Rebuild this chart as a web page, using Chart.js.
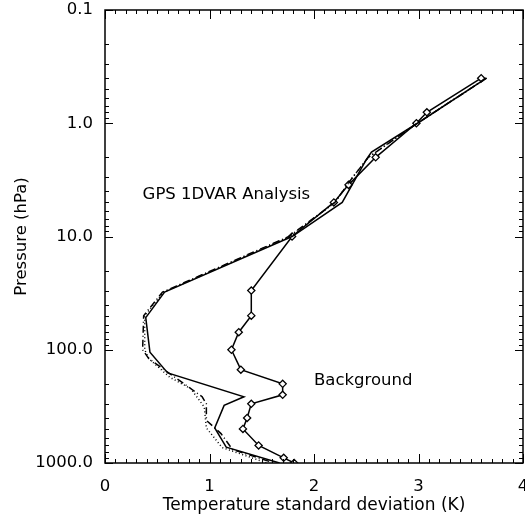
<!DOCTYPE html>
<html lang="en">
<head>
<meta charset="UTF-8">
<title>Temperature standard deviation</title>
<script src="https://cdn.jsdelivr.net/npm/chart.js"></script>
<style>
  html, body { margin: 0; padding: 0; background: #fff; overflow: hidden; }
  .chart-container { position: relative; width: 525px; height: 517px; }
</style>
</head>
<body>
<div class="chart-container"><canvas id="chart" width="525" height="517"></canvas></div>
<script>
// background error profile (diamonds)
const bgPressure = [0.4, 0.8, 1, 2, 3.5, 5, 10, 30, 50, 70, 100, 150, 200, 250, 300, 400, 500, 700, 900, 1000];
const bgStd      = [3.6, 3.08, 2.98, 2.59, 2.33, 2.19, 1.79, 1.40, 1.40, 1.28, 1.21, 1.30, 1.70, 1.70, 1.40, 1.36, 1.32, 1.47, 1.71, 1.81];

// GPS 1DVAR analysis, solid
const anPressure = [0.4, 1, 1.8, 2.1, 5, 10, 31, 52, 105, 160, 260, 310, 490, 725, 1000];
const anStd      = [3.65, 2.99, 2.55, 2.5, 2.27, 1.79, 0.57, 0.39, 0.43, 0.60, 1.33, 1.14, 1.05, 1.16, 1.67];

// analysis, dash-dot
const an2Pressure = [0.4, 1, 2, 3, 5, 10, 31, 50, 100, 120, 170, 260, 300, 420, 550, 760, 1000];
const an2Std      = [3.65, 2.99, 2.52, 2.37, 2.2, 1.76, 0.55, 0.37, 0.36, 0.42, 0.65, 0.93, 0.97, 0.97, 1.11, 1.22, 1.62];

// analysis, dotted
const an3Pressure = [0.4, 1, 2, 3, 5, 10, 31, 50, 100, 120, 175, 220, 320, 490, 730, 1000];
const an3Std      = [3.65, 2.99, 2.52, 2.37, 2.2, 1.77, 0.56, 0.38, 0.38, 0.42, 0.62, 0.82, 0.95, 0.97, 1.12, 1.55];

const yTicks = [0.1, 1, 10, 100, 1000];
const xTicks = [0, 1, 2, 3, 4];

const FONT = 'DejaVu Sans';

function pts(p, v) {
    return p.map((pp, i) => ({ x: v[i], y: pp }));
}

function line(data, dash, extra) {
    return Object.assign({
        data: data,
        showLine: true,
        borderColor: '#000',
        borderWidth: 1.5,
        borderDash: dash,
        pointRadius: 0,
        fill: false
    }, extra || {});
}

// box + inward ticks + text labels
const frame = {
    id: 'frame',
    afterDatasetsDraw(chart) {
        const { ctx, chartArea: a, scales: { x, y } } = chart;
        ctx.save();
        ctx.strokeStyle = '#000';
        ctx.lineWidth = 1.5;
        ctx.strokeRect(a.left, a.top, a.right - a.left, a.bottom - a.top);

        ctx.lineWidth = 1;
        ctx.beginPath();
        for (let i = 0; i <= 40; i++) {
            const px = Math.round(x.getPixelForValue(i / 10)) + 0.5;
            const len = i % 10 === 0 ? 9 : 4;
            ctx.moveTo(px, a.bottom); ctx.lineTo(px, a.bottom - len);
            ctx.moveTo(px, a.top); ctx.lineTo(px, a.top + len);
        }
        for (const d of [0.1, 1, 10, 100]) {
            for (let k = 1; k <= 10; k++) {
                const py = Math.round(y.getPixelForValue(d * k)) + 0.5;
                const len = (k === 1 || k === 10) ? 8 : 4;
                ctx.moveTo(a.left, py); ctx.lineTo(a.left + len, py);
                ctx.moveTo(a.right, py); ctx.lineTo(a.right - len, py);
            }
        }
        ctx.stroke();

        ctx.fillStyle = '#000';
        ctx.font = '16.5px "' + FONT + '"';
        ctx.textBaseline = 'middle';
        ctx.fillText('GPS 1DVAR Analysis', x.getPixelForValue(0.36), y.getPixelForValue(4.3));
        ctx.fillText('Background', x.getPixelForValue(2.0), y.getPixelForValue(186));
        ctx.restore();
    }
};

new Chart(document.getElementById('chart'), {
    type: 'scatter',
    data: {
        datasets: [
            line(pts(anPressure, anStd), []),
            line(pts(an2Pressure, an2Std), [7, 3, 1, 3]),
            line(pts(an3Pressure, an3Std), [1, 2.5]),
            line(pts(bgPressure, bgStd), [], {
                pointRadius: 3.6,
                pointStyle: 'rectRot',
                pointBackgroundColor: '#fff',
                pointBorderColor: '#000',
                pointBorderWidth: 1.3
            })
        ]
    },
    options: {
        responsive: false,
        maintainAspectRatio: false,
        animation: false,
        layout: { autoPadding: false, padding: { top: 10, right: 2, left: 0, bottom: 0 } },
        plugins: { legend: { display: false }, tooltip: { enabled: false } },
        scales: {
            x: {
                type: 'linear',
                min: 0,
                max: 4,
                grid: { display: false },
                border: { display: false },
                afterBuildTicks: s => { s.ticks = xTicks.map(v => ({ value: v })); },
                afterFit: s => { s.height = 54; s.paddingLeft = 0; s.paddingRight = 0; },
                ticks: {
                    color: '#000',
                    padding: 6,
                    maxRotation: 0,
                    font: { family: FONT, size: 16.5 },
                    callback: v => String(v)
                },
                title: {
                    display: true,
                    text: 'Temperature standard deviation (K)',
                    color: '#000',
                    font: { family: FONT, size: 17 },
                    padding: { top: 0, bottom: 1 }
                }
            },
            y: {
                type: 'logarithmic',
                reverse: true,
                min: 0.1,
                max: 1000,
                grid: { display: false },
                border: { display: false },
                afterBuildTicks: s => { s.ticks = yTicks.map(v => ({ value: v })); },
                afterFit: s => { s.width = 105; s.paddingTop = 0; s.paddingBottom = 0; },
                ticks: {
                    color: '#000',
                    padding: 4,
                    font: { family: FONT, size: 16.5 },
                    callback: v => Number(v).toFixed(1)
                },
                title: {
                    display: true,
                    text: 'Pressure (hPa)',
                    color: '#000',
                    font: { family: FONT, size: 16.5 },
                    padding: { top: 12, bottom: 0 }
                }
            }
        }
    },
    plugins: [frame]
});
</script>
</body>
</html>
